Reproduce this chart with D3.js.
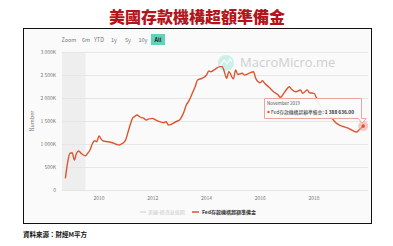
<!DOCTYPE html>
<html>
<head>
<meta charset="utf-8">
<script src="https://cdn.jsdelivr.net/npm/d3@7"></script>
<style>
  html, body { margin: 0; padding: 0; background: #fff; }
  svg { display: block; font-family: "Noto Sans CJK TC", "Noto Sans", sans-serif; }
</style>
</head>
<body>
<svg id="chart" width="393" height="246"></svg>
<script>
// monthly points (K)
const months = ["2008-10","2008-11","2008-12","2009-01","2009-02","2009-03","2009-04","2009-05","2009-06","2009-07",
  "2009-08","2009-09","2009-10","2009-11","2009-12","2010-01","2010-02","2010-03","2010-05","2010-07",
  "2010-09","2010-10","2010-11","2010-12","2011-01","2011-02","2011-03","2011-04","2011-05","2011-06",
  "2011-07","2011-08","2011-09","2011-10","2011-11","2012-01","2012-02","2012-04","2012-06","2012-07",
  "2012-08","2012-09","2012-10","2012-12","2013-01","2013-02","2013-03","2013-04","2013-05","2013-07",
  "2013-08","2013-09","2013-11","2014-01","2014-02","2014-03","2014-05","2014-07","2014-08","2014-09",
  "2014-10","2014-11","2015-01","2015-02","2015-03","2015-05","2015-06","2015-08","2015-10","2015-11",
  "2016-01","2016-02","2016-03","2016-05","2016-07","2016-09","2016-10","2016-12","2017-02","2017-03",
  "2017-05","2017-07","2017-08","2017-10","2017-11","2018-01","2018-03","2018-05","2018-07","2018-09",
  "2018-10","2018-12","2019-02","2019-04","2019-06","2019-08","2019-09","2019-11"];
const reserves = [254,600,798,811,652,798,848,800,761,746,
  800,870,1000,1072,1050,1174,1100,1065,1050,1028,
  990,978,1000,1028,1100,1267,1420,1558,1600,1630,
  1600,1572,1560,1522,1540,1558,1530,1485,1463,1485,
  1413,1420,1450,1500,1522,1600,1702,1848,1920,2137,
  2250,2391,2428,2500,2587,2572,2630,2681,2681,2572,
  2428,2572,2413,2609,2515,2537,2500,2537,2572,2428,
  2333,2376,2319,2232,2137,2065,2015,2137,2246,2189,
  2137,2174,2102,2174,2115,2102,1900,1750,1620,1560,
  1500,1420,1380,1350,1300,1260,1300,1389];
const recession = ["2007-12","2009-07"];
const yTicks = [0, 500, 1000, 1500, 2000, 2500, 3000];
const yTickLabels = ["0","500K","1 000K","1 500K","2 000K","2 500K","3 000K"];
const xTicks = ["2010","2012","2014","2016","2018"];
const rangeButtons = ["Zoom","6m","YTD","1y","5y","10y","All"];
const tipDate = "November 2019";
const tipValue = "1 388 636.00";

const parse = d3.timeParse("%Y-%m");
const data = months.map((m, i) => ({ date: parse(m), value: reserves[i] }));

const svg = d3.select("#chart");
const plot = { left: 62, right: 368, top: 52, bottom: 190 };

// title
svg.append("text").attr("x", 197).attr("y", 23).attr("text-anchor", "middle")
  .attr("font-size", 16).attr("font-weight", 900).attr("fill", "#b3151b")
  .text("美國存款機構超額準備金");

// frame
svg.append("rect").attr("x", 23.5).attr("y", 28.5).attr("width", 348).attr("height", 195)
  .attr("fill", "#fafafa").attr("stroke", "#111").attr("stroke-width", 1);

const x = d3.scaleTime()
  .domain([new Date(2010, 0, 1), new Date(2018, 0, 1)])
  .range([99, 314]);
const y = d3.scaleLinear().domain([0, 3000]).range([plot.bottom, plot.top]);

// recession band, clipped to the plot
const bx0 = Math.max(plot.left, x(parse(recession[0])));
svg.append("rect").attr("x", bx0).attr("y", plot.top)
  .attr("width", x(parse(recession[1])) - bx0).attr("height", plot.bottom - plot.top)
  .attr("fill", "#eeeeee");

// grid + y labels
svg.append("g").selectAll("line").data(yTicks).join("line")
  .attr("x1", plot.left).attr("x2", plot.right)
  .attr("y1", d => y(d) + 0.5).attr("y2", d => y(d) + 0.5)
  .attr("stroke", "#e6e6e6").attr("stroke-width", 1);
svg.append("g").selectAll("text").data(yTicks).join("text")
  .attr("x", 56).attr("y", d => y(d) + 2)
  .attr("text-anchor", "end").attr("font-size", 5).attr("fill", "#777")
  .text((d, i) => yTickLabels[i]);

svg.append("text").attr("transform", "translate(34,121) rotate(-90)")
  .attr("text-anchor", "middle").attr("font-size", 5.5).attr("fill", "#777").text("Number");

// x labels
svg.append("g").selectAll("text").data(xTicks).join("text")
  .attr("x", d => x(new Date(+d, 0, 1))).attr("y", 200)
  .attr("text-anchor", "middle").attr("font-size", 5).attr("fill", "#777")
  .text(d => d);

// range selector
const btnX = [69, 86, 99, 114, 128, 143, 158];
svg.append("rect").attr("x", 151).attr("y", 34).attr("width", 14).attr("height", 11)
  .attr("fill", "#62d2b8");
svg.append("g").selectAll("text").data(rangeButtons).join("text")
  .attr("x", (d, i) => btnX[i]).attr("y", 42)
  .attr("text-anchor", "middle").attr("font-size", 5.5)
  .attr("font-weight", d => d === "All" ? 700 : 400)
  .attr("fill", d => d === "All" ? "#222" : "#777")
  .text(d => d);

// watermark
svg.append("circle").attr("cx", 226).attr("cy", 63).attr("r", 8).attr("fill", "#bfeee2").attr("opacity", 0.8);
svg.append("path").attr("d", "M220,66 L224,60 L227,64 L230,59 L232,62")
  .attr("fill", "none").attr("stroke", "#fff").attr("stroke-width", 1.2);
svg.append("text").attr("x", 240).attr("y", 67).attr("font-size", 13)
  .attr("font-family", "'Open Sans', sans-serif").attr("fill", "#cfcfcf").text("MacroMicro.me");

// series
const line = d3.line().x(d => x(d.date)).y(d => y(d.value)).curve(d3.curveMonotoneX);
svg.append("path").datum(data).attr("d", line)
  .attr("fill", "none").attr("stroke", "#dd5530").attr("stroke-width", 1.4)
  .attr("stroke-linejoin", "round");

// hovered last point
const last = data[data.length - 1];
const lx = x(last.date), ly = y(last.value);
svg.append("circle").attr("cx", lx).attr("cy", ly).attr("r", 5).attr("fill", "#f2a9a0").attr("opacity", 0.6);
svg.append("circle").attr("cx", lx).attr("cy", ly).attr("r", 1.8).attr("fill", "#dd5530");

// tooltip
const tip = svg.append("g");
tip.append("path")
  .attr("d", `M264.5,98.5 H361.5 V118.5 H${lx + 3} L${lx - 1},123 L${lx - 5},118.5 H264.5 Z`)
  .attr("fill", "#fbfbfb").attr("fill-opacity", 0.92).attr("stroke", "#eba59c").attr("stroke-width", 1);
tip.append("text").attr("x", 267).attr("y", 105).attr("font-size", 4.5).attr("fill", "#555")
  .text(tipDate);
tip.append("circle").attr("cx", 268.5).attr("cy", 112).attr("r", 1.2).attr("fill", "#dd5530");
const t2 = tip.append("text").attr("x", 271).attr("y", 113.8).attr("font-size", 4.8).attr("fill", "#333");
t2.append("tspan").text("Fed存款機構超額準備金: ");
t2.append("tspan").attr("font-weight", 700).text(tipValue);

// legend
svg.append("line").attr("x1", 140).attr("x2", 146).attr("y1", 212).attr("y2", 212)
  .attr("stroke", "#ddd").attr("stroke-width", 1.5);
svg.append("text").attr("x", 148).attr("y", 214).attr("font-size", 5).attr("fill", "#ccc").text("美國-經濟衰退期");
svg.append("line").attr("x1", 192).attr("x2", 199).attr("y1", 212).attr("y2", 212)
  .attr("stroke", "#dd5530").attr("stroke-width", 1.5);
svg.append("text").attr("x", 202).attr("y", 214).attr("font-size", 5).attr("font-weight", 700).attr("fill", "#333")
  .text("Fed存款機構超額準備金");

// source
svg.append("text").attr("x", 23).attr("y", 237).attr("font-size", 6.5).attr("font-weight", 700).attr("fill", "#111")
  .text("資料來源：財經M平方");
</script>
</body>
</html>
